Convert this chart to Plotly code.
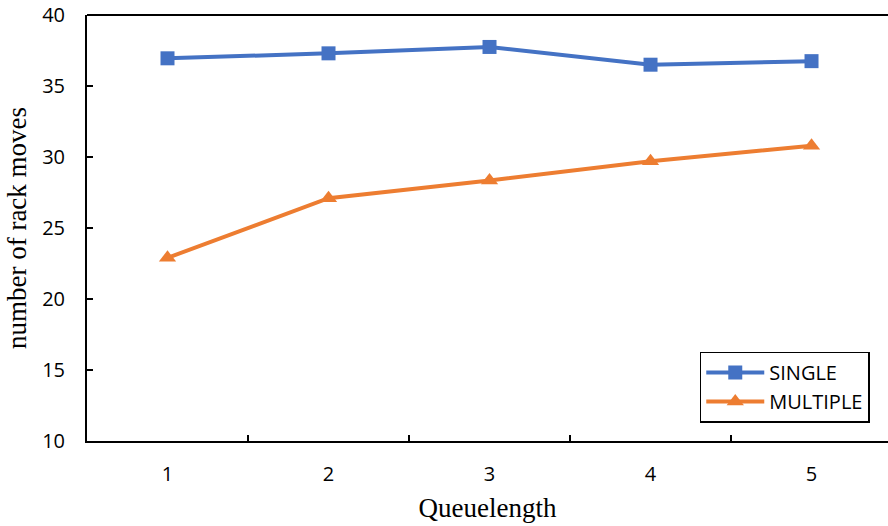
import plotly.graph_objects as go

categories = ["1", "2", "3", "4", "5"]
single = [36.95, 37.3, 37.75, 36.5, 36.75]
multiple = [22.9, 27.1, 28.35, 29.7, 30.8]
y_ticks = [10, 15, 20, 25, 30, 35, 40]

SANS = "Open Sans, Liberation Sans, Arial"
SERIF = "Liberation Serif, Times New Roman"

fig = go.Figure()
fig.add_trace(go.Scatter(
    x=categories, y=single, name="SINGLE", mode="lines+markers",
    line=dict(color="#4472C4", width=4),
    marker=dict(symbol="square", size=14, color="#4472C4"),
))
fig.add_trace(go.Scatter(
    x=categories, y=multiple, name="MULTIPLE", mode="lines+markers",
    line=dict(color="#ED7D31", width=4),
    marker=dict(symbol="triangle-up", size=15, color="#ED7D31"),
))

fig.update_layout(
    width=888, height=526,
    margin=dict(l=87, r=0, t=15, b=85),
    paper_bgcolor="white", plot_bgcolor="white",
    showlegend=True,
    legend=dict(
        x=0.765, y=0.21, xanchor="left", yanchor="top",
        bordercolor="black", borderwidth=1.5, bgcolor="white",
        font=dict(family=SANS, size=20, color="black"),
        itemwidth=58, tracegroupgap=0,
    ),
    xaxis=dict(
        type="category", range=[-0.5, 4.475],
        tickson="boundaries", ticks="inside", ticklen=6, tickcolor="black", tickwidth=1.5,
        showline=True, linecolor="black", linewidth=2, showgrid=False, zeroline=False,
        tickfont=dict(family=SANS, size=20, color="black"),
        ticklabelstandoff=14,
        title=dict(text="Queuelength", font=dict(family=SERIF, size=27, color="black"), standoff=12),
    ),
    yaxis=dict(
        range=[10, 40], tickvals=y_ticks,
        ticks="inside", ticklen=6, tickcolor="black", tickwidth=1.5,
        showline=True, linecolor="black", linewidth=2, showgrid=False, zeroline=False,
        tickfont=dict(family=SANS, size=20, color="black"),
        ticklabelstandoff=16,
        title=dict(text="number of rack moves", font=dict(family=SERIF, size=27, color="black"), standoff=8),
    ),
)

fig.add_shape(type="line", xref="paper", yref="paper", x0=0, x1=1, y0=1, y1=1,
              line=dict(color="black", width=2))

fig.write_html("out.html")
